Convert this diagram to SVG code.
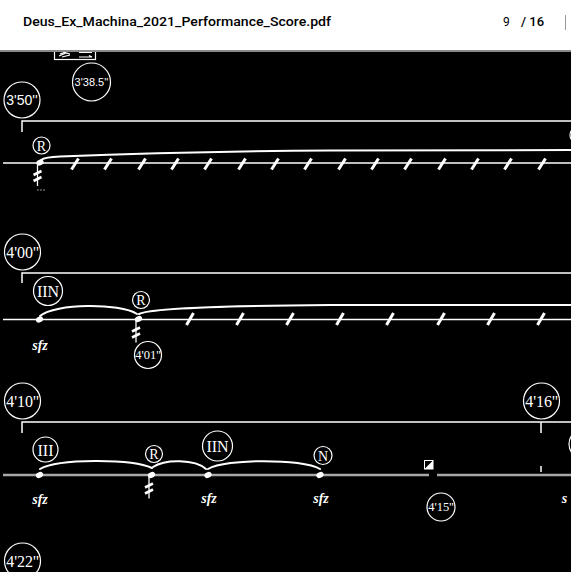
<svg xmlns="http://www.w3.org/2000/svg" width="571" height="572" viewBox="0 0 571 572">
<style>
.bg{fill:#000}
.ln{stroke:#fff;stroke-width:1.5;fill:none}
.staff{stroke:#fff;stroke-width:1.6}
.staff3{stroke:#a8a8a8;stroke-width:2.6}
.slur{stroke:#fff;stroke-width:2;fill:none;stroke-linecap:round}
.sl{stroke:#fff;stroke-width:3;stroke-linecap:butt}
.ring{fill:none;stroke:#fff;stroke-width:1.2}
.tm{font-family:"Liberation Serif",serif;font-size:16px;fill:#fff;text-anchor:middle}
.tms{font-family:"Liberation Sans",sans-serif;font-size:14px;fill:#fff;text-anchor:middle}
.sm{font-family:"Liberation Serif",serif;font-size:12.5px;fill:#fff;text-anchor:middle}
.lbl{font-family:"Liberation Serif",serif;fill:#fff;text-anchor:middle}
.sfz{font-family:"Liberation Serif",serif;font-weight:bold;font-style:italic;font-size:14px;fill:#fff;text-anchor:middle}
.head{fill:#fff}
.trem{stroke:#fff;stroke-width:1.3;fill:none}
.tremb{stroke:#fff;stroke-width:2.6;fill:none}
</style>
<defs>
<g id="noteTrem">
<line class="trem" x1="-1.5" y1="0" x2="-1.5" y2="23"/>
<line class="tremb" x1="-5.5" y1="12" x2="2.5" y2="8"/>
<line class="tremb" x1="-5.5" y1="18" x2="2.5" y2="14"/>
</g>
</defs>
<rect class="bg" x="0" y="0" width="571" height="572"/>

<g id="toolbox">
<rect x="54.5" y="44" width="41" height="15.5" fill="#000" stroke="#fff" stroke-width="1.2"/>
<path d="M59,56 L66,53 L70,54 M60,54 L68,51 M62,57 L70,55" stroke="#fff" stroke-width="1.2" fill="none"/>
<path d="M79,52.5 L92,52.5 M79,52.5 L82,51 M79,57 L92,57 M92,57 L89,55.5" stroke="#fff" stroke-width="1.2" fill="none"/>
</g>

<g id="header">
<rect x="0" y="0" width="571" height="50" fill="#fff"/>
<rect x="0" y="50" width="571" height="2" fill="#8a8a8a"/>
<text x="23" y="26" font-family="Roboto, sans-serif" font-weight="500" font-size="13" fill="#000" textLength="308" lengthAdjust="spacingAndGlyphs">Deus_Ex_Machina_2021_Performance_Score.pdf</text>
<text x="503" y="26" font-family="Roboto, sans-serif" font-size="12" fill="#000">9</text>
<text x="521" y="26" font-family="Roboto, sans-serif" font-weight="500" font-size="13" fill="#000">/ 16</text>
<line x1="565.5" y1="15" x2="565.5" y2="30" stroke="#999" stroke-width="1"/>
</g>

<g id="mark-3-38">
<circle class="ring" cx="91.5" cy="82" r="19"/>
<text x="91.5" y="86" font-family="Liberation Sans, sans-serif" font-size="11" fill="#fff" text-anchor="middle">3'38.5''</text>
</g>

<g id="connectors">
<line class="staff" x1="3" y1="163" x2="571" y2="163"/>
<line class="staff" x1="3" y1="319.5" x2="571" y2="319.5"/>
<line class="staff3" x1="3" y1="475" x2="571" y2="475"/>
<path class="ln" d="M22,132 L22,121 L571,121"/>
<path class="ln" d="M22,283 L22,273 L571,273"/>
<path class="ln" d="M22,433 L22,422 L571,422"/>
<line class="ln" x1="541" y1="422" x2="541" y2="433"/>
<line class="ln" x1="541" y1="466" x2="541" y2="472"/>
<path class="slur" d="M41,160 Q45,157 60,156.5 C150,153 250,151 330,150.5 L571,150"/>
<path class="slur" d="M40,316 C55,303 120,303 137,314"/>
<path class="slur" d="M139,314 C150,308 220,306 330,305 L571,305"/>
<path class="slur" d="M40,469 C58,458.5 132,458.5 152,468"/>
<path class="slur" d="M153,467 C165,459 195,459 206,469"/>
<path class="slur" d="M208,469 C226,458.5 302,458.5 320,469"/>
</g>

<g id="beats-1">
<g class="sl">
<line x1="71.5" y1="169.5" x2="78.5" y2="158.5"/>
<line x1="104.5" y1="169.5" x2="111.5" y2="158.5"/>
<line x1="138.5" y1="169.5" x2="145.5" y2="158.5"/>
<line x1="171.5" y1="169.5" x2="178.5" y2="158.5"/>
<line x1="204.5" y1="169.5" x2="211.5" y2="158.5"/>
<line x1="238.5" y1="169.5" x2="245.5" y2="158.5"/>
<line x1="271.5" y1="169.5" x2="278.5" y2="158.5"/>
<line x1="304.5" y1="169.5" x2="311.5" y2="158.5"/>
<line x1="338.5" y1="169.5" x2="345.5" y2="158.5"/>
<line x1="371.5" y1="169.5" x2="378.5" y2="158.5"/>
<line x1="404.5" y1="169.5" x2="411.5" y2="158.5"/>
<line x1="438.5" y1="169.5" x2="445.5" y2="158.5"/>
<line x1="471.5" y1="169.5" x2="478.5" y2="158.5"/>
<line x1="504.5" y1="169.5" x2="511.5" y2="158.5"/>
<line x1="538.5" y1="169.5" x2="545.5" y2="158.5"/>
</g>
</g>

<g id="beats-2">
<g class="sl">
<line x1="186.5" y1="325" x2="193.5" y2="313"/>
<line x1="236.5" y1="325" x2="243.5" y2="313"/>
<line x1="286.5" y1="325" x2="293.5" y2="313"/>
<line x1="336.5" y1="325" x2="343.5" y2="313"/>
<line x1="386.5" y1="325" x2="393.5" y2="313"/>
<line x1="437.5" y1="325" x2="444.5" y2="313"/>
<line x1="487.5" y1="325" x2="494.5" y2="313"/>
<line x1="537.5" y1="325" x2="544.5" y2="313"/>
</g>
</g>

<g id="t-3-50">
<circle class="ring" cx="22" cy="100" r="18"/>
<text class="tms" x="22" y="105">3'50''</text>
</g>
<g id="r-1">
<circle class="ring" cx="41.5" cy="145.5" r="8.5"/>
<text class="lbl" x="41.5" y="150.5" font-size="14">R</text>
</g>
<g id="note-1">
<ellipse class="head" cx="40" cy="162.5" rx="3.8" ry="2.8" transform="rotate(-25 40 162.5)"/>
<use href="#noteTrem" x="39" y="163"/>
<circle cx="38" cy="190" r="0.7" fill="#ccc"/>
<circle cx="41" cy="190" r="0.7" fill="#ccc"/>
<circle cx="44" cy="190" r="0.7" fill="#ccc"/>
</g>
<g id="edge-1">
<circle class="ring" cx="578" cy="135" r="8"/>
</g>

<g id="t-4-00">
<circle class="ring" cx="22.5" cy="252" r="18"/>
<text class="tm" x="22.5" y="257.5">4'00''</text>
</g>
<g id="iin-1">
<circle class="ring" cx="48" cy="291" r="14.5"/>
<text class="lbl" x="48" y="297" font-size="16">IIN</text>
</g>
<g id="note-2a">
<ellipse class="head" cx="39.5" cy="319.5" rx="3.8" ry="2.8" transform="rotate(-25 39.5 319.5)"/>
<text class="sfz" x="40" y="350">sfz</text>
</g>
<g id="r-2">
<circle class="ring" cx="141" cy="300" r="8.5"/>
<text class="lbl" x="141" y="305" font-size="14">R</text>
</g>
<g id="note-2b">
<ellipse class="head" cx="138.5" cy="319" rx="3.8" ry="2.8" transform="rotate(-25 138.5 319)"/>
<use href="#noteTrem" x="137.5" y="319.5"/>
</g>
<g id="t-4-01">
<circle class="ring" cx="148" cy="355" r="13.5"/>
<text class="sm" x="148" y="359">4'01''</text>
</g>

<g id="t-4-10">
<circle class="ring" cx="22.5" cy="401" r="18"/>
<text class="tm" x="22.5" y="406.5">4'10''</text>
</g>
<g id="iii">
<circle class="ring" cx="45.5" cy="449.5" r="12.5"/>
<text class="lbl" x="45.5" y="455.5" font-size="16">III</text>
</g>
<g id="note-3a">
<ellipse class="head" cx="39.5" cy="475" rx="3.8" ry="2.8" transform="rotate(-25 39.5 475)"/>
<text class="sfz" x="40" y="504">sfz</text>
</g>
<g id="r-3">
<circle class="ring" cx="154" cy="454" r="8.5"/>
<text class="lbl" x="154" y="459" font-size="14">R</text>
</g>
<g id="note-3b">
<ellipse class="head" cx="151.5" cy="475" rx="3.8" ry="2.8" transform="rotate(-25 151.5 475)"/>
<use href="#noteTrem" x="150.5" y="475.5"/>
</g>
<g id="iin-2">
<circle class="ring" cx="217.5" cy="446" r="15"/>
<text class="lbl" x="217.5" y="452" font-size="16">IIN</text>
</g>
<g id="note-3c">
<ellipse class="head" cx="208" cy="475" rx="3.8" ry="2.8" transform="rotate(-25 208 475)"/>
<text class="sfz" x="209" y="503">sfz</text>
</g>
<g id="n-1">
<circle class="ring" cx="323" cy="455.5" r="9"/>
<text class="lbl" x="323" y="460.5" font-size="14">N</text>
</g>
<g id="note-3d">
<ellipse class="head" cx="320" cy="475" rx="3.8" ry="2.8" transform="rotate(-25 320 475)"/>
<text class="sfz" x="321" y="503">sfz</text>
</g>
<g id="marker-4-15">
<rect x="424.5" y="460.5" width="8.5" height="8.5" fill="#000" stroke="#fff" stroke-width="1"/>
<path d="M433,460.5 L433,469 L424.5,469 Z" fill="#fff"/>
<rect x="429" y="473" width="8" height="4" fill="#000"/>
</g>
<g id="t-4-15">
<circle class="ring" cx="441" cy="507" r="14"/>
<text class="sm" x="441" y="511">4'15''</text>
</g>
<g id="t-4-16">
<circle class="ring" cx="541.5" cy="401" r="18"/>
<text class="tm" x="541.5" y="406.5">4'16''</text>
</g>
<g id="edge-3">
<circle class="ring" cx="584" cy="444" r="15"/>
<text class="sfz" x="564.5" y="503" text-anchor="start">s</text>
</g>

<g id="t-4-22">
<circle class="ring" cx="22.5" cy="561" r="18"/>
<text class="tm" x="22.5" y="566.5">4'22''</text>
</g>
</svg>
